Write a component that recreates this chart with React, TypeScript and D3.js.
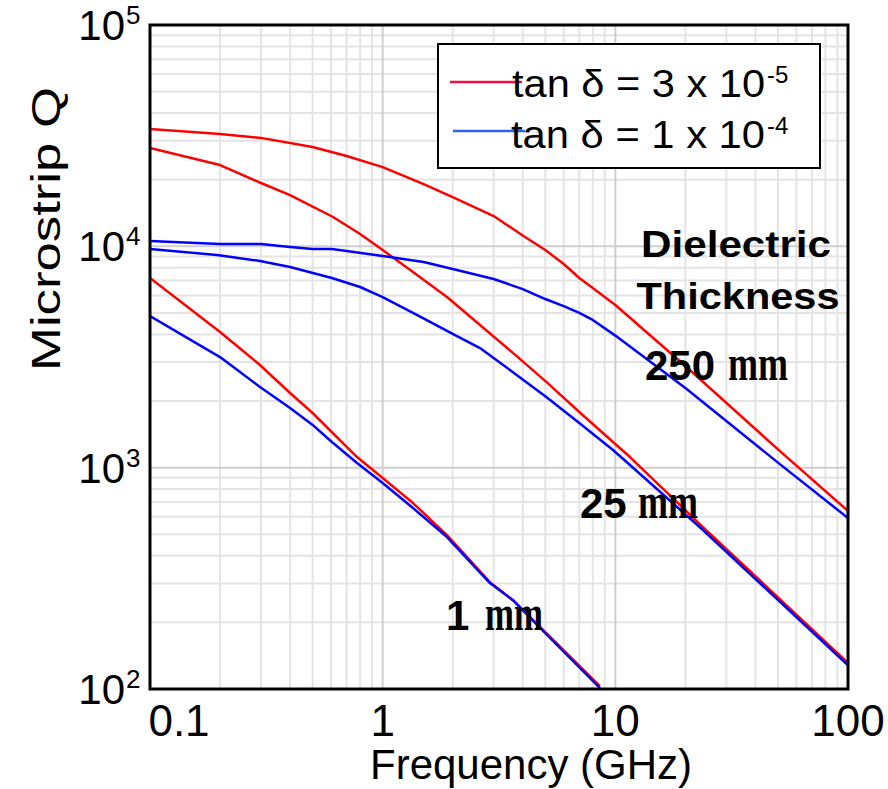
import React from 'react';
import * as d3 from 'd3';

// ---- data (frequency in GHz, Microstrip Q) ----
const freqR250 = [0.1, 0.2, 0.3, 0.5, 0.7, 1, 1.5, 2, 3, 4, 5, 6, 7, 8, 10, 20, 50, 100];
const qR250 = [33900, 32200, 30900, 28100, 25600, 22800, 19100, 16700, 13700, 11200, 9630, 8320, 7190, 6480, 5430, 2880, 1210, 637];

const freqB250 = [0.1, 0.2, 0.3, 0.4, 0.5, 0.605, 0.7, 1, 1.5, 2, 3, 4, 5, 6, 7, 8, 10, 20, 50, 100];
const qB250 = [10570, 10240, 10240, 9930, 9730, 9730, 9530, 9040, 8500, 7900, 7120, 6410, 5780, 5370, 5000, 4650, 3950, 2290, 1054, 592];

const freqR25 = [0.1, 0.2, 0.3, 0.4, 0.612, 0.8, 1, 1.35, 1.89, 2.62, 3.63, 5.05, 7, 9.77, 11.56, 23.8, 100];
const qR25 = [27800, 23300, 19320, 17050, 13570, 11370, 9630, 7660, 5900, 4410, 3300, 2440, 1785, 1306, 1117, 539, 131];

const freqB25 = [0.1, 0.194, 0.297, 0.4, 0.605, 0.8, 1, 1.35, 2, 2.62, 3.63, 5.05, 7, 9.77, 11.56, 23.8, 100];
const qB25 = [9730, 9140, 8590, 8070, 7190, 6550, 5900, 5000, 4020, 3470, 2700, 2085, 1590, 1202, 1028, 523, 128];

const freqR1 = [0.1, 0.2, 0.297, 0.4, 0.5, 0.776, 1, 1.35, 1.89, 2.89, 3.63, 4.89, 8.59];
const qR1 = [7190, 4100, 2910, 2175, 1766, 1117, 898, 692, 496, 304, 252, 185, 103];

const freqB1 = [0.1, 0.2, 0.297, 0.4, 0.5, 0.605, 0.776, 1, 1.35, 1.89, 2.89, 3.63, 4.89, 8.59];
const qB1 = [4840, 3160, 2314, 1860, 1560, 1306, 1050, 853, 657, 486, 301, 252, 183, 101];

const xTickValues = [0.1, 1, 10, 100];
const xTickLabels = ['0.1', '1', '10', '100'];
const yTickValues = [1e2, 1e3, 1e4, 1e5];
const yTickExponents = ['2', '3', '4', '5'];

const legendLabels = ['tan \u03B4 = 3 x 10', 'tan \u03B4 = 1 x 10'];
const legendExponents = ['-5', '-4'];
const thicknessNumbers = ['250', '25', '1'];
const thicknessUnit = 'mm';

const RED = '#ff0000';
const BLUE = '#0000ff';
const SANS = '"Liberation Sans", Arial, Helvetica, sans-serif';
const SERIF = '"Liberation Serif", "Times New Roman", serif';

export default function App() {
  const left = 150, right = 848, top = 25, bottom = 689;
  const x = d3.scaleLog().domain([0.1, 100]).range([left, right]);
  const y = d3.scaleLog().domain([100, 1e5]).range([bottom, top]);

  const line = d3
    .line<[number, number]>()
    .x((d) => x(d[0]))
    .y((d) => y(d[1]));

  const series = [
    { f: freqR250, q: qR250, c: RED },
    { f: freqR25, q: qR25, c: RED },
    { f: freqR1, q: qR1, c: RED },
    { f: freqB250, q: qB250, c: BLUE },
    { f: freqB25, q: qB25, c: BLUE },
    { f: freqB1, q: qB1, c: BLUE },
  ];

  const minorX: number[] = [];
  for (let dec = 0.1; dec < 100; dec *= 10) {
    for (let k = 2; k <= 9; k++) minorX.push(+(dec * k).toPrecision(3));
  }
  const minorY: number[] = [];
  for (let dec = 100; dec < 1e5; dec *= 10) {
    for (let k = 2; k <= 9; k++) minorY.push(dec * k);
  }

  // label layout: [numberX, unitX, unitLen, baseline]
  const thicknessLayout = [
    [645, 728, 60, 380],
    [580, 638, 60, 518],
    [446, 485, 58, 630],
  ];

  return (
    <svg
      width={888}
      height={789}
      style={{ position: 'absolute', left: 0, top: 0, background: '#fff' }}
      fontFamily={SANS}
    >
      <rect x={0} y={0} width={888} height={789} fill="#fff" />
      <defs>
        <clipPath id="plotClip">
          <rect x={left} y={top} width={right - left} height={bottom - top} />
        </clipPath>
      </defs>
      {/* grid */}
      <g>
        {minorX.map((v) => (
          <line key={'mx' + v} x1={x(v)} x2={x(v)} y1={top} y2={bottom} stroke="#e4e4e4" strokeWidth={2} />
        ))}
        {minorY.map((v) => (
          <line key={'my' + v} x1={left} x2={right} y1={y(v)} y2={y(v)} stroke="#e4e4e4" strokeWidth={2} />
        ))}
        {xTickValues.map((v) => (
          <line key={'Mx' + v} x1={x(v)} x2={x(v)} y1={top} y2={bottom} stroke="#cfcfcf" strokeWidth={2} />
        ))}
        {yTickValues.map((v) => (
          <line key={'My' + v} x1={left} x2={right} y1={y(v)} y2={y(v)} stroke="#cfcfcf" strokeWidth={2} />
        ))}
      </g>

      {/* curves */}
      <g clipPath="url(#plotClip)">
        {series.map((s, i) => (
          <path
            key={i}
            d={line(s.f.map((f, j) => [f, s.q[j]] as [number, number])) || ''}
            fill="none"
            stroke={s.c}
            strokeWidth={2.5}
            strokeLinejoin="round"
          />
        ))}
      </g>

      {/* frame */}
      <rect x={left} y={top} width={right - left} height={bottom - top} fill="none" stroke="#000" strokeWidth={3} />

      {/* legend */}
      <rect x={438} y={44} width={382} height={124} fill="#fff" stroke="#000" strokeWidth={2} />
      <line x1={450} x2={522} y1={82} y2={82} stroke="#f01040" strokeWidth={2.5} />
      <line x1={453} x2={525} y1={131} y2={131} stroke="#3060f0" strokeWidth={2.5} />
      <text x={512} y={97} fontSize={38} textLength={253} lengthAdjust="spacingAndGlyphs">{legendLabels[0]}</text>
      <text x={767} y={83} fontSize={24}>{legendExponents[0]}</text>
      <text x={511} y={148} fontSize={38} textLength={254} lengthAdjust="spacingAndGlyphs">{legendLabels[1]}</text>
      <text x={767} y={134} fontSize={24}>{legendExponents[1]}</text>

      {/* annotations */}
      <text x={736} y={257} fontSize={36} fontWeight="bold" textAnchor="middle" textLength={190} lengthAdjust="spacingAndGlyphs">Dielectric</text>
      <text x={738} y={309} fontSize={36} fontWeight="bold" textAnchor="middle" textLength={203} lengthAdjust="spacingAndGlyphs">Thickness</text>

      {thicknessNumbers.map((n, i) => {
        const [nx, ux, ul, by] = thicknessLayout[i];
        return (
          <g key={'th' + n}>
            <text x={nx} y={by} fontSize={42} fontWeight="bold">{n}</text>
            <text x={ux} y={by} fontSize={50} fontFamily={SERIF} fontWeight="bold" textLength={ul} lengthAdjust="spacingAndGlyphs">{thicknessUnit}</text>
          </g>
        );
      })}

      {/* x ticks */}
      {xTickValues.map((v, i) => {
        const px = i === 0 ? x(v) + 29 : x(v);
        return (
          <text key={'xt' + v} x={px} y={736} fontSize={44} textAnchor="middle">
            {xTickLabels[i]}
          </text>
        );
      })}
      <text x={531} y={779} fontSize={42} textAnchor="middle" textLength={322} lengthAdjust="spacingAndGlyphs">
        Frequency (GHz)
      </text>

      {/* y ticks */}
      {yTickValues.map((v, i) => (
        <g key={'yt' + v}>
          <text x={125} y={y(v) + 15} fontSize={42} textAnchor="end">10</text>
          <text x={126} y={y(v) - 1} fontSize={26}>{yTickExponents[i]}</text>
        </g>
      ))}
      <text
        transform="translate(60,229) rotate(-90)"
        fontSize={40}
        textAnchor="middle"
        textLength={284}
        lengthAdjust="spacingAndGlyphs"
      >
        Microstrip Q
      </text>
    </svg>
  );
}
